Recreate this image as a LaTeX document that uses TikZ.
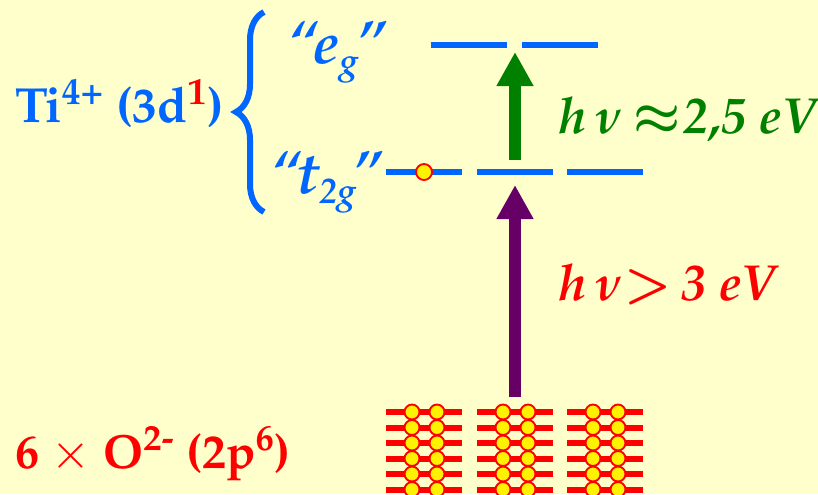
\documentclass[tikz,border=0pt]{standalone}
\usepackage[T1]{fontenc}
\usepackage{mathpazo}
\usetikzlibrary{arrows.meta, decorations.pathreplacing}

\definecolor{bgyellow}{RGB}{255,255,204}
\definecolor{tiblue}{RGB}{0,102,255}
\definecolor{ored}{RGB}{255,0,0}
\definecolor{exgreen}{RGB}{0,128,0}
\definecolor{expurple}{RGB}{102,0,102}

% small lowered index for the level names
\newcommand{\lvsub}[1]{\raisebox{-8pt}{\fontsize{27}{30}\selectfont #1}}

\begin{document}
\begin{tikzpicture}[
    x=0.75pt, y=-0.75pt,
    % Style definitions
    level/.style={draw=tiblue, line width=4.5pt},
    band/.style={draw=ored, line width=4.5pt},
    electron/.style={fill=yellow, draw=ored, line width=1.4pt},
    excite/.style={-{Triangle[width=26pt, length=25.5pt]}, line width=9pt},
    txt/.style={anchor=base west, inner sep=0pt},
]

% Background and frame
\fill[bgyellow] (0,0) rectangle (818,494);
\useasboundingbox (0,0) rectangle (818,494);

% Ti 3d levels
\coordinate (eg1) at (431,45);
\coordinate (eg2) at (522,45);
\coordinate (egmid) at (515,45);
\foreach \xa in {431,522}
  \draw[level] (\xa,45) -- ++(76,0);
\coordinate (t2g1) at (386,172);
\coordinate (t2g2) at (515,172);
\foreach \xa in {386,477,567}
  \draw[level] (\xa,172) -- ++(76,0);
\draw[electron] (424,172) circle[radius=6pt];

% O 2p bands
\coordinate (o2p) at (515,412);
\foreach \xa in {386,477,567}{
  \foreach \ya in {412,427.5,443,458.5,474,489.5}
    \draw[band] (\xa,\ya) -- ++(76,0);
}
\foreach \xa in {386,477,567}{
  \foreach \ya in {412,427.5,443,458.5,474,489.5}{
    \draw[electron] (\xa+26,\ya) circle[radius=5.6pt];
    \draw[electron] (\xa+51,\ya) circle[radius=5.6pt];
  }
}

% Labels
\node[txt, text=tiblue, font=\fontsize{37}{42}\selectfont\bfseries] (ti) at (15,122)
  {Ti\textsuperscript{4+} (3d\textsuperscript{\textcolor{ored}{1}})};
\node[txt, text=tiblue, font=\fontsize{44}{50}\selectfont\bfseries\itshape] (eg) at (288,63)
  {``\kern-3pt e\lvsub{g}\kern-1pt''};
\node[txt, text=tiblue, font=\fontsize{44}{50}\selectfont\bfseries\itshape] (t2g) at (271,193)
  {``\kern-3pt t\lvsub{2g}\kern-2pt''};
\node[txt, text=ored, font=\fontsize{36}{40}\selectfont\bfseries] (oxy) at (15,468)
  {6 $\times$ O\textsuperscript{2-} (2p\textsuperscript{6})};
\node[txt, text=exgreen, font=\fontsize{38}{42}\selectfont\boldmath\bfseries\itshape] (dd) at (558,133)
  {h\,$\nu$\,${\approx}$\kern2pt 2,5 eV};
\node[txt, text=ored, font=\fontsize{38}{42}\selectfont\boldmath\bfseries\itshape] (ct) at (558,300)
  {h\,$\nu$${>}$\,3 eV};

% Brace
\draw[draw=tiblue, line width=4.5pt, decorate, decoration={brace, amplitude=21pt}]
  (264,212) -- (264,12);

% Arrows
\draw[excite, draw=expurple, fill=expurple, shorten <=11.25pt, shorten >=9.75pt] (o2p) -- (t2g2);
\draw[excite, draw=exgreen, fill=exgreen, shorten <=9pt, shorten >=5.25pt] (t2g2) -- (egmid);

\end{tikzpicture}
\end{document}
